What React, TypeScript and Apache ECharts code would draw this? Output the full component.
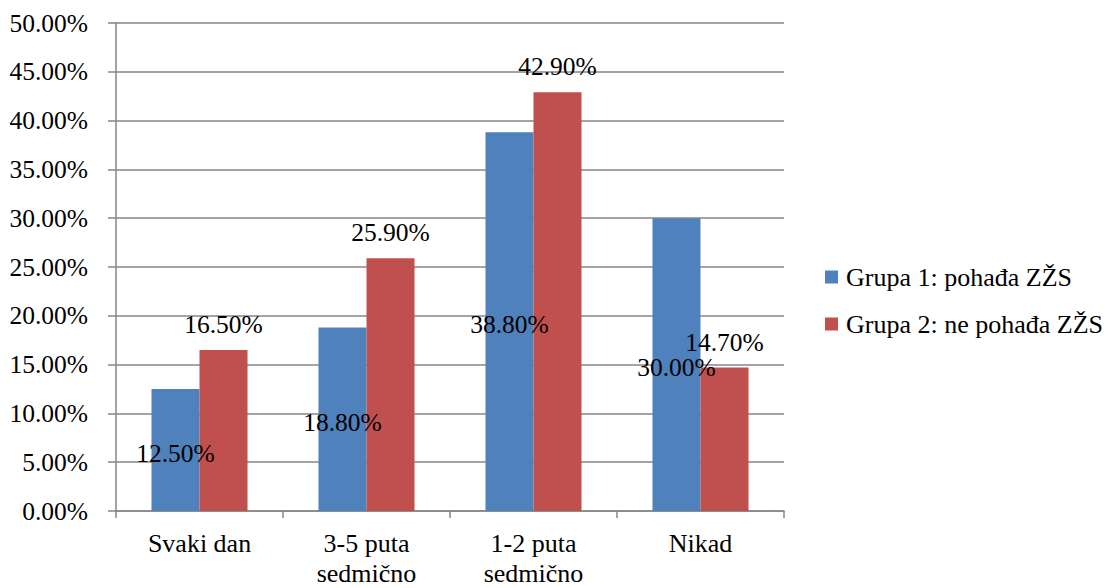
import React, { useEffect, useRef } from "react";
import * as echarts from "echarts";

const categories = ["Svaki dan", "3-5 puta\nsedmično", "1-2 puta\nsedmično", "Nikad"];
const group1Name = "Grupa 1: pohađa ZŽS";
const group2Name = "Grupa 2: ne pohađa ZŽS";
const group1Values = [12.5, 18.8, 38.8, 30.0];
const group2Values = [16.5, 25.9, 42.9, 14.7];

const FONT = "Times New Roman, Liberation Serif, serif";
const AXIS_GRAY = "#868686";

export default function App() {
  const ref = useRef<HTMLDivElement>(null);

  useEffect(() => {
    if (!ref.current) return;
    const chart = echarts.init(ref.current, null, { renderer: "svg" });
    const fmt = (v: number) => v.toFixed(2) + "%";
    chart.setOption({
      animation: false,
      backgroundColor: "#ffffff",
      textStyle: { fontFamily: FONT, color: "#000" },
      grid: { left: 116, right: 325, top: 23, bottom: 71, containLabel: false },
      legend: {
        orient: "vertical",
        left: 825,
        top: 264,
        padding: 0,
        itemWidth: 13,
        itemHeight: 13,
        itemGap: 21,
        icon: "rect",
        textStyle: {
          fontFamily: FONT,
          fontSize: 26,
          color: "#000",
          lineHeight: 26,
          padding: [0, 0, 0, 3],
        },
        data: [group1Name, group2Name],
      },
      xAxis: {
        type: "category",
        data: categories,
        axisLine: { lineStyle: { color: AXIS_GRAY, width: 1.5 } },
        axisTick: { show: true, length: 7, lineStyle: { color: AXIS_GRAY, width: 1.5 } },
        axisLabel: {
          fontFamily: FONT,
          fontSize: 26,
          color: "#000",
          lineHeight: 30,
          margin: 17,
          interval: 0,
        },
      },
      yAxis: {
        type: "value",
        min: 0,
        max: 50,
        interval: 5,
        axisLine: { show: true, lineStyle: { color: AXIS_GRAY, width: 1.5 } },
        axisTick: { show: true, length: 8, lineStyle: { color: AXIS_GRAY, width: 1.5 } },
        splitLine: { show: true, lineStyle: { color: AXIS_GRAY, width: 1.5 } },
        axisLabel: {
          fontFamily: FONT,
          fontSize: 25.5,
          color: "#000",
          margin: 28,
          formatter: (v: number) => v.toFixed(2) + "%",
        },
      },
      series: [
        {
          name: group1Name,
          type: "bar",
          data: group1Values,
          barGap: "0%",
          barCategoryGap: "42.5%",
          itemStyle: { color: "#4F81BD" },
          label: {
            show: true,
            position: "inside",
            offset: [0, 3],
            fontFamily: FONT,
            fontSize: 25.5,
            lineHeight: 19,
            color: "#000",
            formatter: (p: any) => fmt(p.value),
          },
        },
        {
          name: group2Name,
          type: "bar",
          data: group2Values,
          barGap: "0%",
          barCategoryGap: "42.5%",
          itemStyle: { color: "#C0504D" },
          label: {
            show: true,
            position: "top",
            distance: 16,
            fontFamily: FONT,
            fontSize: 25.5,
            lineHeight: 19,
            color: "#000",
            formatter: (p: any) => fmt(p.value),
          },
        },
      ],
    });
    return () => chart.dispose();
  }, []);

  return (
    <div
      ref={ref}
      style={{ position: "fixed", left: 0, top: 0, width: 1109, height: 588, background: "#fff" }}
    />
  );
}
